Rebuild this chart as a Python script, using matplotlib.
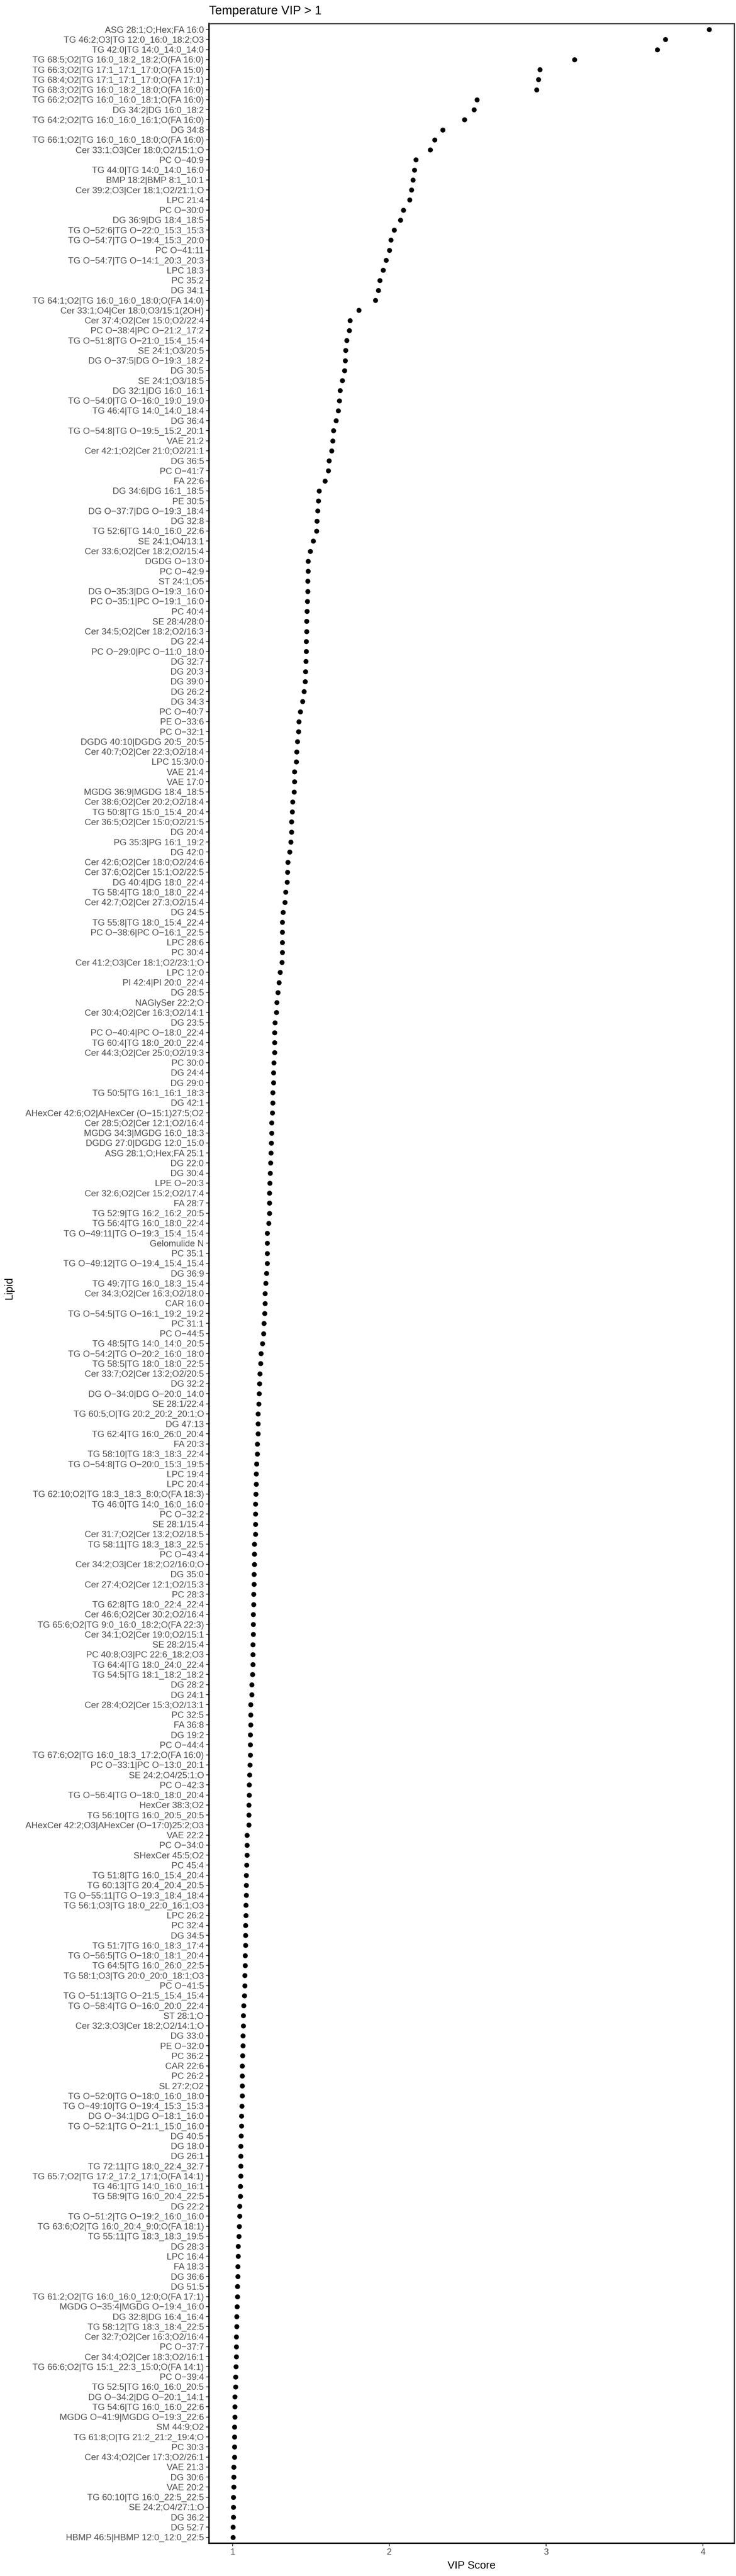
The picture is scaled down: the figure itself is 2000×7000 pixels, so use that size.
import matplotlib
matplotlib.use("Agg")
import matplotlib.pyplot as plt
import numpy as np

plt.rcParams['font.family'] = ['Liberation Sans', 'DejaVu Sans']

title = "Temperature VIP > 1"

lipids = [
    "ASG 28:1;O;Hex;FA 16:0",
    "TG 46:2;O3|TG 12:0_16:0_18:2;O3",
    "TG 42:0|TG 14:0_14:0_14:0",
    "TG 68:5;O2|TG 16:0_18:2_18:2;O(FA 16:0)",
    "TG 66:3;O2|TG 17:1_17:1_17:0;O(FA 15:0)",
    "TG 68:4;O2|TG 17:1_17:1_17:0;O(FA 17:1)",
    "TG 68:3;O2|TG 16:0_18:2_18:0;O(FA 16:0)",
    "TG 66:2;O2|TG 16:0_16:0_18:1;O(FA 16:0)",
    "DG 34:2|DG 16:0_18:2",
    "TG 64:2;O2|TG 16:0_16:0_16:1;O(FA 16:0)",
    "DG 34:8",
    "TG 66:1;O2|TG 16:0_16:0_18:0;O(FA 16:0)",
    "Cer 33:1;O3|Cer 18:0;O2/15:1;O",
    "PC O-40:9",
    "TG 44:0|TG 14:0_14:0_16:0",
    "BMP 18:2|BMP 8:1_10:1",
    "Cer 39:2;O3|Cer 18:1;O2/21:1;O",
    "LPC 21:4",
    "PC O-30:0",
    "DG 36:9|DG 18:4_18:5",
    "TG O-52:6|TG O-22:0_15:3_15:3",
    "TG O-54:7|TG O-19:4_15:3_20:0",
    "PC O-41:11",
    "TG O-54:7|TG O-14:1_20:3_20:3",
    "LPC 18:3",
    "PC 35:2",
    "DG 34:1",
    "TG 64:1;O2|TG 16:0_16:0_18:0;O(FA 14:0)",
    "Cer 33:1;O4|Cer 18:0;O3/15:1(2OH)",
    "Cer 37:4;O2|Cer 15:0;O2/22:4",
    "PC O-38:4|PC O-21:2_17:2",
    "TG O-51:8|TG O-21:0_15:4_15:4",
    "SE 24:1;O3/20:5",
    "DG O-37:5|DG O-19:3_18:2",
    "DG 30:5",
    "SE 24:1;O3/18:5",
    "DG 32:1|DG 16:0_16:1",
    "TG O-54:0|TG O-16:0_19:0_19:0",
    "TG 46:4|TG 14:0_14:0_18:4",
    "DG 36:4",
    "TG O-54:8|TG O-19:5_15:2_20:1",
    "VAE 21:2",
    "Cer 42:1;O2|Cer 21:0;O2/21:1",
    "DG 36:5",
    "PC O-41:7",
    "FA 22:6",
    "DG 34:6|DG 16:1_18:5",
    "PE 30:5",
    "DG O-37:7|DG O-19:3_18:4",
    "DG 32:8",
    "TG 52:6|TG 14:0_16:0_22:6",
    "SE 24:1;O4/13:1",
    "Cer 33:6;O2|Cer 18:2;O2/15:4",
    "DGDG O-13:0",
    "PC O-42:9",
    "ST 24:1;O5",
    "DG O-35:3|DG O-19:3_16:0",
    "PC O-35:1|PC O-19:1_16:0",
    "PC 40:4",
    "SE 28:4/28:0",
    "Cer 34:5;O2|Cer 18:2;O2/16:3",
    "DG 22:4",
    "PC O-29:0|PC O-11:0_18:0",
    "DG 32:7",
    "DG 20:3",
    "DG 39:0",
    "DG 26:2",
    "DG 34:3",
    "PC O-40:7",
    "PE O-33:6",
    "PC O-32:1",
    "DGDG 40:10|DGDG 20:5_20:5",
    "Cer 40:7;O2|Cer 22:3;O2/18:4",
    "LPC 15:3/0:0",
    "VAE 21:4",
    "VAE 17:0",
    "MGDG 36:9|MGDG 18:4_18:5",
    "Cer 38:6;O2|Cer 20:2;O2/18:4",
    "TG 50:8|TG 15:0_15:4_20:4",
    "Cer 36:5;O2|Cer 15:0;O2/21:5",
    "DG 20:4",
    "PG 35:3|PG 16:1_19:2",
    "DG 42:0",
    "Cer 42:6;O2|Cer 18:0;O2/24:6",
    "Cer 37:6;O2|Cer 15:1;O2/22:5",
    "DG 40:4|DG 18:0_22:4",
    "TG 58:4|TG 18:0_18:0_22:4",
    "Cer 42:7;O2|Cer 27:3;O2/15:4",
    "DG 24:5",
    "TG 55:8|TG 18:0_15:4_22:4",
    "PC O-38:6|PC O-16:1_22:5",
    "LPC 28:6",
    "PC 30:4",
    "Cer 41:2;O3|Cer 18:1;O2/23:1;O",
    "LPC 12:0",
    "PI 42:4|PI 20:0_22:4",
    "DG 28:5",
    "NAGlySer 22:2;O",
    "Cer 30:4;O2|Cer 16:3;O2/14:1",
    "DG 23:5",
    "PC O-40:4|PC O-18:0_22:4",
    "TG 60:4|TG 18:0_20:0_22:4",
    "Cer 44:3;O2|Cer 25:0;O2/19:3",
    "PC 30:0",
    "DG 24:4",
    "DG 29:0",
    "TG 50:5|TG 16:1_16:1_18:3",
    "DG 42:1",
    "AHexCer 42:6;O2|AHexCer (O-15:1)27:5;O2",
    "Cer 28:5;O2|Cer 12:1;O2/16:4",
    "MGDG 34:3|MGDG 16:0_18:3",
    "DGDG 27:0|DGDG 12:0_15:0",
    "ASG 28:1;O;Hex;FA 25:1",
    "DG 22:0",
    "DG 30:4",
    "LPE O-20:3",
    "Cer 32:6;O2|Cer 15:2;O2/17:4",
    "FA 28:7",
    "TG 52:9|TG 16:2_16:2_20:5",
    "TG 56:4|TG 16:0_18:0_22:4",
    "TG O-49:11|TG O-19:3_15:4_15:4",
    "Gelomulide N",
    "PC 35:1",
    "TG O-49:12|TG O-19:4_15:4_15:4",
    "DG 36:9",
    "TG 49:7|TG 16:0_18:3_15:4",
    "Cer 34:3;O2|Cer 16:3;O2/18:0",
    "CAR 16:0",
    "TG O-54:5|TG O-16:1_19:2_19:2",
    "PC 31:1",
    "PC O-44:5",
    "TG 48:5|TG 14:0_14:0_20:5",
    "TG O-54:2|TG O-20:2_16:0_18:0",
    "TG 58:5|TG 18:0_18:0_22:5",
    "Cer 33:7;O2|Cer 13:2;O2/20:5",
    "DG 32:2",
    "DG O-34:0|DG O-20:0_14:0",
    "SE 28:1/22:4",
    "TG 60:5;O|TG 20:2_20:2_20:1;O",
    "DG 47:13",
    "TG 62:4|TG 16:0_26:0_20:4",
    "FA 20:3",
    "TG 58:10|TG 18:3_18:3_22:4",
    "TG O-54:8|TG O-20:0_15:3_19:5",
    "LPC 19:4",
    "LPC 20:4",
    "TG 62:10;O2|TG 18:3_18:3_8:0;O(FA 18:3)",
    "TG 46:0|TG 14:0_16:0_16:0",
    "PC O-32:2",
    "SE 28:1/15:4",
    "Cer 31:7;O2|Cer 13:2;O2/18:5",
    "TG 58:11|TG 18:3_18:3_22:5",
    "PC O-43:4",
    "Cer 34:2;O3|Cer 18:2;O2/16:0;O",
    "DG 35:0",
    "Cer 27:4;O2|Cer 12:1;O2/15:3",
    "PC 28:3",
    "TG 62:8|TG 18:0_22:4_22:4",
    "Cer 46:6;O2|Cer 30:2;O2/16:4",
    "TG 65:6;O2|TG 9:0_16:0_18:2;O(FA 22:3)",
    "Cer 34:1;O2|Cer 19:0;O2/15:1",
    "SE 28:2/15:4",
    "PC 40:8;O3|PC 22:6_18:2;O3",
    "TG 64:4|TG 18:0_24:0_22:4",
    "TG 54:5|TG 18:1_18:2_18:2",
    "DG 28:2",
    "DG 24:1",
    "Cer 28:4;O2|Cer 15:3;O2/13:1",
    "PC 32:5",
    "FA 36:8",
    "DG 19:2",
    "PC O-44:4",
    "TG 67:6;O2|TG 16:0_18:3_17:2;O(FA 16:0)",
    "PC O-33:1|PC O-13:0_20:1",
    "SE 24:2;O4/25:1;O",
    "PC O-42:3",
    "TG O-56:4|TG O-18:0_18:0_20:4",
    "HexCer 38:3;O2",
    "TG 56:10|TG 16:0_20:5_20:5",
    "AHexCer 42:2;O3|AHexCer (O-17:0)25:2;O3",
    "VAE 22:2",
    "PC O-34:0",
    "SHexCer 45:5;O2",
    "PC 45:4",
    "TG 51:8|TG 16:0_15:4_20:4",
    "TG 60:13|TG 20:4_20:4_20:5",
    "TG O-55:11|TG O-19:3_18:4_18:4",
    "TG 56:1;O3|TG 18:0_22:0_16:1;O3",
    "LPC 26:2",
    "PC 32:4",
    "DG 34:5",
    "TG 51:7|TG 16:0_18:3_17:4",
    "TG O-56:5|TG O-18:0_18:1_20:4",
    "TG 64:5|TG 16:0_26:0_22:5",
    "TG 58:1;O3|TG 20:0_20:0_18:1;O3",
    "PC O-41:5",
    "TG O-51:13|TG O-21:5_15:4_15:4",
    "TG O-58:4|TG O-16:0_20:0_22:4",
    "ST 28:1;O",
    "Cer 32:3;O3|Cer 18:2;O2/14:1;O",
    "DG 33:0",
    "PE O-32:0",
    "PC 36:2",
    "CAR 22:6",
    "PC 26:2",
    "SL 27:2;O2",
    "TG O-52:0|TG O-18:0_16:0_18:0",
    "TG O-49:10|TG O-19:4_15:3_15:3",
    "DG O-34:1|DG O-18:1_16:0",
    "TG O-52:1|TG O-21:1_15:0_16:0",
    "DG 40:5",
    "DG 18:0",
    "DG 26:1",
    "TG 72:11|TG 18:0_22:4_32:7",
    "TG 65:7;O2|TG 17:2_17:2_17:1;O(FA 14:1)",
    "TG 46:1|TG 14:0_16:0_16:1",
    "TG 58:9|TG 16:0_20:4_22:5",
    "DG 22:2",
    "TG O-51:2|TG O-19:2_16:0_16:0",
    "TG 63:6;O2|TG 16:0_20:4_9:0;O(FA 18:1)",
    "TG 55:11|TG 18:3_18:3_19:5",
    "DG 28:3",
    "LPC 16:4",
    "FA 18:3",
    "DG 36:6",
    "DG 51:5",
    "TG 61:2;O2|TG 16:0_16:0_12:0;O(FA 17:1)",
    "MGDG O-35:4|MGDG O-19:4_16:0",
    "DG 32:8|DG 16:4_16:4",
    "TG 58:12|TG 18:3_18:4_22:5",
    "Cer 32:7;O2|Cer 16:3;O2/16:4",
    "PC O-37:7",
    "Cer 34:4;O2|Cer 18:3;O2/16:1",
    "TG 66:6;O2|TG 15:1_22:3_15:0;O(FA 14:1)",
    "PC O-39:4",
    "TG 52:5|TG 16:0_16:0_20:5",
    "DG O-34:2|DG O-20:1_14:1",
    "TG 54:6|TG 16:0_16:0_22:6",
    "MGDG O-41:9|MGDG O-19:3_22:6",
    "SM 44:9;O2",
    "TG 61:8;O|TG 21:2_21:2_19:4;O",
    "PC 30:3",
    "Cer 43:4;O2|Cer 17:3;O2/26:1",
    "VAE 21:3",
    "DG 30:6",
    "VAE 20:2",
    "TG 60:10|TG 16:0_22:5_22:5",
    "SE 24:2;O4/27:1;O",
    "DG 36:2",
    "DG 52:7",
    "HBMP 46:5|HBMP 12:0_12:0_22:5",
]

vip = [
    4.04, 3.76, 3.71, 3.18, 2.96, 2.95, 2.94, 2.56, 2.54, 2.48,
    2.34, 2.29, 2.26, 2.17, 2.16, 2.15, 2.14, 2.13, 2.09, 2.07,
    2.03, 2.01, 2.00, 1.98, 1.96, 1.94, 1.93, 1.91, 1.805, 1.749,
    1.744, 1.727, 1.720, 1.718, 1.715, 1.700, 1.685, 1.680, 1.675, 1.660,
    1.643, 1.638, 1.631, 1.615, 1.610, 1.590, 1.552, 1.548, 1.542, 1.539,
    1.536, 1.515, 1.495, 1.482, 1.482, 1.480, 1.480, 1.476, 1.475, 1.473,
    1.472, 1.470, 1.470, 1.468, 1.465, 1.462, 1.455, 1.446, 1.432, 1.422,
    1.420, 1.414, 1.408, 1.407, 1.394, 1.394, 1.393, 1.382, 1.380, 1.375,
    1.375, 1.370, 1.364, 1.352, 1.351, 1.348, 1.339, 1.333, 1.321, 1.318,
    1.317, 1.316, 1.316, 1.315, 1.304, 1.297, 1.290, 1.283, 1.279, 1.270,
    1.269, 1.268, 1.267, 1.263, 1.261, 1.260, 1.257, 1.257, 1.254, 1.250,
    1.249, 1.246, 1.245, 1.243, 1.239, 1.238, 1.235, 1.235, 1.234, 1.230,
    1.221, 1.221, 1.220, 1.220, 1.217, 1.211, 1.208, 1.208, 1.205, 1.199,
    1.198, 1.190, 1.181, 1.178, 1.175, 1.172, 1.169, 1.166, 1.163, 1.162,
    1.162, 1.158, 1.157, 1.154, 1.151, 1.150, 1.148, 1.146, 1.146, 1.146,
    1.145, 1.139, 1.138, 1.138, 1.137, 1.136, 1.135, 1.135, 1.132, 1.131,
    1.131, 1.130, 1.129, 1.129, 1.127, 1.122, 1.122, 1.116, 1.115, 1.115,
    1.113, 1.113, 1.112, 1.110, 1.109, 1.107, 1.106, 1.104, 1.104, 1.103,
    1.092, 1.091, 1.091, 1.090, 1.087, 1.086, 1.086, 1.084, 1.084, 1.083,
    1.083, 1.082, 1.081, 1.080, 1.078, 1.078, 1.076, 1.070, 1.069, 1.068,
    1.066, 1.065, 1.063, 1.062, 1.062, 1.061, 1.061, 1.060, 1.057, 1.056,
    1.055, 1.053, 1.053, 1.052, 1.052, 1.050, 1.049, 1.045, 1.044, 1.043,
    1.041, 1.036, 1.036, 1.033, 1.033, 1.031, 1.030, 1.029, 1.027, 1.027,
    1.024, 1.024, 1.023, 1.021, 1.020, 1.020, 1.015, 1.015, 1.015, 1.013,
    1.013, 1.013, 1.012, 1.008, 1.007, 1.007, 1.006, 1.005, 1.004, 1.003,
    1.002,
]

xticks = [1, 2, 3, 4]

fig = plt.figure(figsize=(20, 70), dpi=100)
ax = fig.add_axes([0.284, 0.0127, 0.7135, 0.9782])

pos = np.arange(len(lipids))
ax.scatter(vip, pos, s=95, color='black', zorder=3, linewidths=0)

ax.set_ylim(len(lipids) - 0.4, -0.6)
ax.set_xlim(0.85, 4.2)
ax.set_yticks(pos)
ax.set_yticklabels([l.replace('-', '\u2212') for l in lipids])
ax.set_xticks(xticks)

ax.tick_params(axis='both', labelsize=17.5, colors='#333333', labelcolor='#4d4d4d',
               length=6, width=1.6, pad=4)

for side in ['left', 'bottom']:
    ax.spines[side].set_linewidth(2.8)
    ax.spines[side].set_color('black')
for side in ['top', 'right']:
    ax.spines[side].set_linewidth(2.0)
    ax.spines[side].set_color('#333333')

ax.set_xlabel("VIP Score", fontsize=21, labelpad=8)
fig.text(0.0125, 0.5, "Lipid", rotation=90, fontsize=21, va='center', ha='center')
fig.text(0.284, 0.9957, title, fontsize=24, va='center', ha='left')

fig.savefig("out.png", dpi=100)
